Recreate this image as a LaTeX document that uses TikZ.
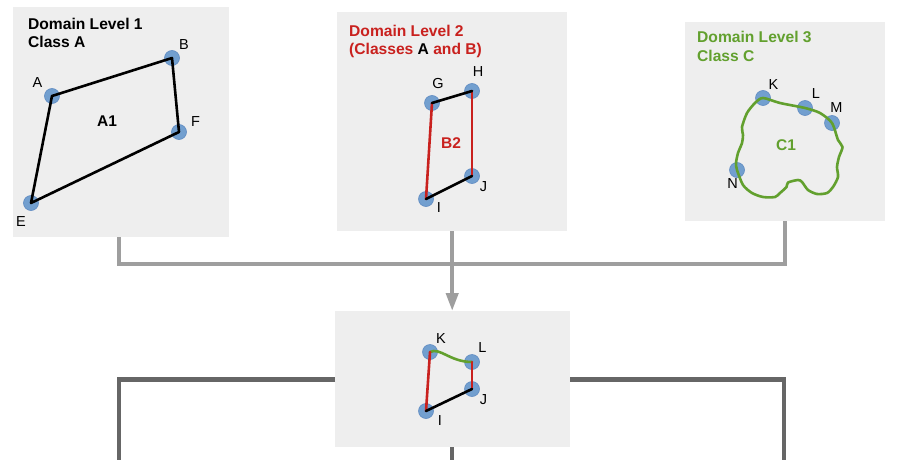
\documentclass[tikz,border=0pt]{standalone}
\usepackage{fontspec}
\setmainfont{Liberation Sans}
\usetikzlibrary{arrows.meta,calc}
\definecolor{panel}{HTML}{EEEEEE}
\definecolor{ptblue}{HTML}{729FCF}
\definecolor{ptedge}{HTML}{5F8BC2}
\definecolor{dkred}{RGB}{201,33,30}
\definecolor{grn}{RGB}{98,160,46}
\definecolor{conl}{HTML}{9E9E9E}
\definecolor{cond}{HTML}{666666}
\begin{document}
\begin{tikzpicture}[x=1pt,y=-1pt,
  panelbox/.style={rectangle,fill=panel,inner sep=0,anchor=north west},
  ptdot/.style={circle,fill=ptblue,draw=ptedge,line width=0.6pt,minimum size=15pt,inner sep=0},
  lbl/.style={font=\fontsize{14.5}{16}\selectfont,inner sep=0},
  ttl/.style={font=\bfseries\fontsize{15.6}{18}\selectfont,inner sep=0,anchor=base west},
  arealbl/.style={font=\bfseries\fontsize{15.5}{18}\selectfont,inner sep=0},
  edgeblk/.style={line width=2.6pt,black,line join=round,line cap=round},
  edgered/.style={line width=2.6pt,dkred,line join=round,line cap=round},
  edgegrn/.style={line width=2.6pt,grn,line join=round,line cap=round},
  conlight/.style={line width=4pt,conl},
  condark/.style={line width=4.6pt,cond},
]
\useasboundingbox (0,0) rectangle (901,460);

% panels
\node[panelbox,minimum width=216pt,minimum height=230pt] (p1) at (13,7) {};
\node[panelbox,minimum width=230pt,minimum height=219pt] (p2) at (337,12) {};
\node[panelbox,minimum width=200pt,minimum height=199pt] (p3) at (685,22) {};
\node[panelbox,minimum width=235pt,minimum height=136pt] (p4) at (335,311) {};

% connectors
\coordinate (hj) at (452,264);
\coordinate (bl) at (119,460);
\coordinate (br) at (784,460);
\coordinate (bm) at (452,460);
\draw[conlight] ([xshift=-2pt]p1.south) |- (hj) -| (p3.south);
\draw[conlight,-{Triangle[width=12pt,length=18pt]}] (p2.south) -- (p2.south |- p4.north);
\draw[condark] (p4.west) -| (bl);
\draw[condark] (p4.east) -| (br);
\draw[condark] (p4.south -| bm) -- (bm);

% titles
\node[ttl] (t1a) at (28,30) {Domain Level 1};
\node[ttl] (t1b) at (28,48) {Class A};
\node[ttl,text=dkred] (t2a) at (349,37) {Domain Level 2};
\node[ttl,text=dkred] (t2b) at (349,55) {(Classes \textcolor{black}{A} and B)};
\node[ttl,text=grn] (t3a) at (697,43) {Domain Level 3};
\node[ttl,text=grn] (t3b) at (697,61) {Class C};

% panel 1
\node[ptdot] (A) at (52,96) {};
\node[ptdot] (B) at (172,58) {};
\node[ptdot] (F) at (179,132) {};
\node[ptdot] (E) at (31,203) {};
\draw[edgeblk] (A.center) -- (B.center) -- (F.center) -- (E.center) -- cycle;
\node[lbl] (lA) at (37.5,83) {A};
\node[lbl] (lB) at (184,45) {B};
\node[lbl] (lF) at (195.5,121.5) {F};
\node[lbl] (lE) at (21,221.5) {E};
\node[arealbl] (a1) at (107,121) {A1};

% panel 2
\node[ptdot] (G) at (432,103) {};
\node[ptdot] (H) at (472,91) {};
\node[ptdot] (J) at (472,176) {};
\node[ptdot] (I) at (426,199) {};
\draw[edgered] (H.center) -- (J.center);
\draw[edgered] (I.center) -- (G.center);
\draw[edgeblk] (G.center) -- (H.center);
\draw[edgeblk] (J.center) -- (I.center);
\node[lbl] (lG) at (438,83.5) {G};
\node[lbl] (lH) at (478,72) {H};
\node[lbl] (lJ) at (483.5,187) {J};
\node[lbl] (lI) at (439,207.5) {I};
\node[arealbl,text=dkred] (b2) at (451,143) {B2};

% panel 3
\node[ptdot] (K) at (763,98) {};
\node[ptdot] (L) at (805,108) {};
\node[ptdot] (M) at (832,123) {};
\node[ptdot] (N) at (737,170) {};
\draw[edgegrn] plot[smooth cycle,tension=0.45] coordinates {
  (763,98) (780,103) (805,108) (820,113) (832,123) (838,140) (842.5,147)
  (839,157) (837,167) (838,177) (833,187) (827,193) (817,194) (808,190)
  (802,182) (798,180) (788,182.5) (786.5,187) (780,193) (775,197) (763,197)
  (752,193) (743,185) (737,170) (736,163) (738,153) (742,143) (743,135)
  (742,127) (747,113) (755,103)};
\node[lbl] (lK) at (773.5,84.5) {K};
\node[lbl] (lL) at (816,93.5) {L};
\node[lbl] (lM) at (836.5,108) {M};
\node[lbl] (lN) at (732.5,184) {N};
\node[arealbl,text=grn] (c1) at (786,145.5) {C1};

% result panel
\node[ptdot] (K2) at (430,352) {};
\node[ptdot] (L2) at (472,362) {};
\node[ptdot] (J2) at (472,389) {};
\node[ptdot] (I2) at (426,411) {};
\draw[edgegrn] (K2.center) .. controls (440,347) and (450,362) .. (L2.center);
\draw[edgered] (L2.center) -- (J2.center);
\draw[edgered] (I2.center) -- (K2.center);
\draw[edgeblk] (J2.center) -- (I2.center);
\node[lbl] (lK2) at (441,339) {K};
\node[lbl] (lL2) at (482.5,348) {L};
\node[lbl] (lJ2) at (483.5,399.5) {J};
\node[lbl] (lI2) at (440,421) {I};
\end{tikzpicture}
\end{document}
